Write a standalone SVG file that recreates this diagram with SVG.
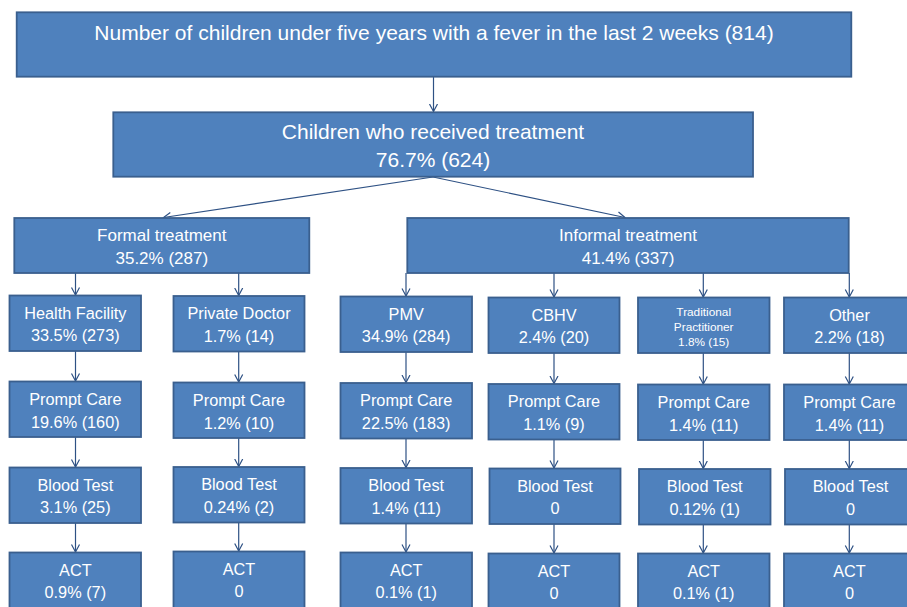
<svg xmlns="http://www.w3.org/2000/svg" width="907" height="607" viewBox="0 0 907 607">
<style>
.box{fill:#4F81BD;stroke:#3A5F8E;stroke-width:1.8}
.t{fill:#FFFFFF;font-family:"Liberation Sans",Arial,sans-serif;text-anchor:middle}
.big{font-size:21px}
.mid{font-size:17px}
.sm{font-size:16.3px}
.xs{font-size:11.8px}
.c{fill:none;stroke:#2E5184;stroke-width:1.2;marker-end:url(#ah)}
</style>
<defs>
<marker id="ah" markerUnits="userSpaceOnUse" markerWidth="12" markerHeight="12" refX="8" refY="5" orient="auto">
<path d="M0.5,1 L8,5 L0.5,9" fill="none" stroke="#2E5184" stroke-width="1.2"/>
</marker>
</defs>
<rect width="907" height="607" fill="#FFFFFF"/>

<g id="connectors">
<line class="c" x1="433.5" y1="77" x2="433.5" y2="111.5"/>
<line class="c" x1="433" y1="177" x2="163.5" y2="217.5"/>
<line class="c" x1="433" y1="177" x2="625" y2="217.5"/>
<line class="c" x1="75.5" y1="273" x2="75.5" y2="295"/>
<line class="c" x1="238.7" y1="273" x2="238.7" y2="295.5"/>
<line class="c" x1="406" y1="273" x2="406" y2="296"/>
<line class="c" x1="554" y1="273" x2="554" y2="297"/>
<line class="c" x1="703.3" y1="273" x2="703.3" y2="297"/>
<line class="c" x1="849.3" y1="273" x2="849.3" y2="297"/>
<line class="c" x1="75.5" y1="351" x2="75.5" y2="381"/>
<line class="c" x1="75.5" y1="437" x2="75.5" y2="467"/>
<line class="c" x1="75.5" y1="523" x2="75.5" y2="552"/>
<line class="c" x1="238.7" y1="351.5" x2="238.7" y2="382"/>
<line class="c" x1="238.7" y1="438" x2="238.7" y2="466.5"/>
<line class="c" x1="238.7" y1="522.5" x2="238.7" y2="551"/>
<line class="c" x1="406" y1="352" x2="406" y2="382.5"/>
<line class="c" x1="406" y1="438.5" x2="406" y2="467.5"/>
<line class="c" x1="406" y1="523.5" x2="406" y2="552"/>
<line class="c" x1="554" y1="353" x2="554" y2="383.5"/>
<line class="c" x1="554" y1="439.5" x2="554" y2="468"/>
<line class="c" x1="554" y1="524" x2="554" y2="553"/>
<line class="c" x1="703.3" y1="353" x2="703.3" y2="384"/>
<line class="c" x1="703.3" y1="440" x2="703.3" y2="468.5"/>
<line class="c" x1="703.3" y1="524.5" x2="703.3" y2="553"/>
<line class="c" x1="849.3" y1="353" x2="849.3" y2="384"/>
<line class="c" x1="849.3" y1="440" x2="849.3" y2="468.5"/>
<line class="c" x1="849.3" y1="524.5" x2="849.3" y2="553"/>
</g>

<g id="n-total">
<rect class="box" x="16.7" y="12.3" width="834.6" height="64.4"/>
<text class="t big" x="434" y="40">Number of children under five years with a fever in the last 2 weeks (814)</text>
</g>
<g id="n-treated">
<rect class="box" x="113.3" y="112.3" width="639.7" height="64.4"/>
<text class="t big" x="433" y="138.5">Children who received treatment</text>
<text class="t big" x="433" y="166.5">76.7% (624)</text>
</g>
<g id="n-formal">
<rect class="box" x="14.3" y="218" width="295" height="55"/>
<text class="t mid" x="161.8" y="241">Formal treatment</text>
<text class="t mid" x="161.8" y="263.5">35.2% (287)</text>
</g>
<g id="n-informal">
<rect class="box" x="407.3" y="218" width="441.4" height="55"/>
<text class="t mid" x="628" y="241">Informal treatment</text>
<text class="t mid" x="628" y="263.5">41.4% (337)</text>
</g>

<g id="n-hf">
<rect class="box" x="9.5" y="295.5" width="131.5" height="55.5"/>
<text class="t sm" x="75.3" y="318.5">Health Facility</text>
<text class="t sm" x="75.3" y="341">33.5% (273)</text>
</g>
<g id="n-hf-pc">
<rect class="box" x="9.5" y="381.5" width="131.5" height="55.5"/>
<text class="t sm" x="75.3" y="405">Prompt Care</text>
<text class="t sm" x="75.3" y="428">19.6% (160)</text>
</g>
<g id="n-hf-bt">
<rect class="box" x="9.5" y="467.5" width="131.5" height="55.5"/>
<text class="t sm" x="75.3" y="490.5">Blood Test</text>
<text class="t sm" x="75.3" y="513">3.1% (25)</text>
</g>
<g id="n-hf-act">
<rect class="box" x="9.5" y="552.5" width="131.5" height="60"/>
<text class="t sm" x="75.3" y="575.5">ACT</text>
<text class="t sm" x="75.3" y="597.5">0.9% (7)</text>
</g>

<g id="n-pd">
<rect class="box" x="173.5" y="296" width="131" height="55.5"/>
<text class="t sm" x="239" y="319">Private Doctor</text>
<text class="t sm" x="239" y="341.5">1.7% (14)</text>
</g>
<g id="n-pd-pc">
<rect class="box" x="173.5" y="382.5" width="131" height="55.5"/>
<text class="t sm" x="239" y="405.5">Prompt Care</text>
<text class="t sm" x="239" y="428.5">1.2% (10)</text>
</g>
<g id="n-pd-bt">
<rect class="box" x="173.5" y="467" width="131" height="55.5"/>
<text class="t sm" x="239" y="490">Blood Test</text>
<text class="t sm" x="239" y="512.5">0.24% (2)</text>
</g>
<g id="n-pd-act">
<rect class="box" x="173.5" y="551.5" width="131" height="60"/>
<text class="t sm" x="239" y="574.5">ACT</text>
<text class="t sm" x="239" y="597">0</text>
</g>

<g id="n-pmv">
<rect class="box" x="340.5" y="296.5" width="131.5" height="55.5"/>
<text class="t sm" x="406.2" y="319.5">PMV</text>
<text class="t sm" x="406.2" y="342">34.9% (284)</text>
</g>
<g id="n-pmv-pc">
<rect class="box" x="340.5" y="383" width="131.5" height="55.5"/>
<text class="t sm" x="406.2" y="406">Prompt Care</text>
<text class="t sm" x="406.2" y="429">22.5% (183)</text>
</g>
<g id="n-pmv-bt">
<rect class="box" x="340.5" y="468" width="131.5" height="55.5"/>
<text class="t sm" x="406.2" y="491">Blood Test</text>
<text class="t sm" x="406.2" y="513.5">1.4% (11)</text>
</g>
<g id="n-pmv-act">
<rect class="box" x="340.5" y="552.5" width="131.5" height="60"/>
<text class="t sm" x="406.2" y="575.5">ACT</text>
<text class="t sm" x="406.2" y="597.5">0.1% (1)</text>
</g>

<g id="n-cbhv">
<rect class="box" x="488.5" y="297.5" width="131" height="55.5"/>
<text class="t sm" x="554" y="320.5">CBHV</text>
<text class="t sm" x="554" y="343">2.4% (20)</text>
</g>
<g id="n-cbhv-pc">
<rect class="box" x="488.5" y="384" width="131" height="55.5"/>
<text class="t sm" x="554" y="407">Prompt Care</text>
<text class="t sm" x="554" y="430">1.1% (9)</text>
</g>
<g id="n-cbhv-bt">
<rect class="box" x="489.5" y="468.5" width="131" height="55.5"/>
<text class="t sm" x="555" y="491.5">Blood Test</text>
<text class="t sm" x="555" y="514">0</text>
</g>
<g id="n-cbhv-act">
<rect class="box" x="488.5" y="553.5" width="131" height="60"/>
<text class="t sm" x="554" y="576.5">ACT</text>
<text class="t sm" x="554" y="598.5">0</text>
</g>

<g id="n-trad">
<rect class="box" x="638" y="297.5" width="131.5" height="55.5"/>
<text class="t xs" x="703.7" y="315.5">Traditional</text>
<text class="t xs" x="703.7" y="330.5">Practitioner</text>
<text class="t xs" x="703.7" y="346">1.8% (15)</text>
</g>
<g id="n-trad-pc">
<rect class="box" x="638" y="384.5" width="131.5" height="55.5"/>
<text class="t sm" x="703.7" y="407.5">Prompt Care</text>
<text class="t sm" x="703.7" y="430.5">1.4% (11)</text>
</g>
<g id="n-trad-bt">
<rect class="box" x="639" y="469" width="131.5" height="55.5"/>
<text class="t sm" x="704.7" y="492">Blood Test</text>
<text class="t sm" x="704.7" y="514.5">0.12% (1)</text>
</g>
<g id="n-trad-act">
<rect class="box" x="638" y="553.5" width="131.5" height="60"/>
<text class="t sm" x="703.7" y="576.5">ACT</text>
<text class="t sm" x="703.7" y="598.5">0.1% (1)</text>
</g>

<g id="n-other">
<rect class="box" x="784" y="297.5" width="131.5" height="55.5"/>
<text class="t sm" x="849.5" y="320.5">Other</text>
<text class="t sm" x="849.5" y="343">2.2% (18)</text>
</g>
<g id="n-other-pc">
<rect class="box" x="784" y="384.5" width="131.5" height="55.5"/>
<text class="t sm" x="849.5" y="407.5">Prompt Care</text>
<text class="t sm" x="849.5" y="430.5">1.4% (11)</text>
</g>
<g id="n-other-bt">
<rect class="box" x="785" y="469" width="131.5" height="55.5"/>
<text class="t sm" x="850.5" y="492">Blood Test</text>
<text class="t sm" x="850.5" y="514.5">0</text>
</g>
<g id="n-other-act">
<rect class="box" x="784" y="553.5" width="131.5" height="60"/>
<text class="t sm" x="849.5" y="576.5">ACT</text>
<text class="t sm" x="849.5" y="598.5">0</text>
</g>
</svg>
